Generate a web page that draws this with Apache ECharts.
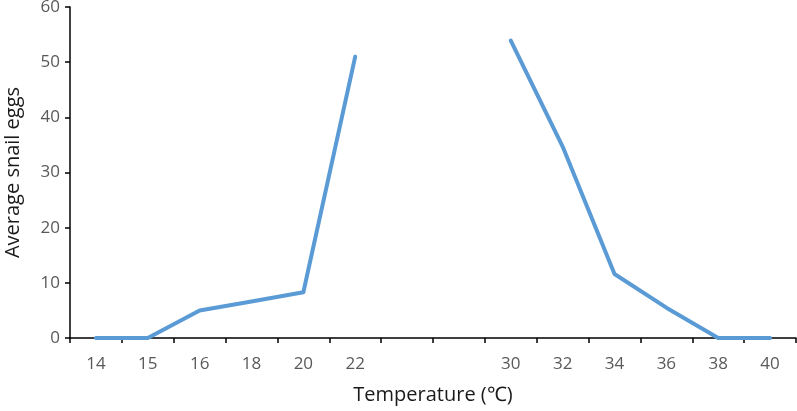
<!DOCTYPE html>
<html>
<head>
<meta charset="utf-8">
<script src="https://cdn.jsdelivr.net/npm/echarts@6/dist/echarts.min.js"></script>
<style>html,body{margin:0;padding:0;background:#fff;}#c{width:797px;height:411px;}</style>
</head>
<body>
<div id="c"></div>
<script>
var categories = ['14','15','16','18','20','22','','','30','32','34','36','38','40'];
var eggs = [0, 0, 5, 6.6, 8.3, 51, null, null, 53.9, 34.7, 11.6, 5.5, 0, 0];
var yTicks = {min: 0, max: 60, interval: 10};

var chart = echarts.init(document.getElementById('c'), null, {renderer: 'canvas'});
chart.setOption({
  animation: false,
  backgroundColor: '#ffffff',
  grid: {left: 70, right: 1, top: 7, bottom: 73, containLabel: false, outerBoundsMode: 'none'},
  xAxis: {
    type: 'category',
    data: categories,
    boundaryGap: true,
    name: 'Temperature (℃)',
    nameLocation: 'middle',
    nameGap: 47,
    nameMoveOverlap: false,
    nameTextStyle: {fontFamily: 'Open Sans', fontSize: 20, color: '#1a1a1a'},
    axisLine: {lineStyle: {color: '#000000', width: 1.5}},
    axisTick: {show: true, interval: 0, length: 5, lineStyle: {color: '#000000', width: 1.5}},
    axisLabel: {interval: 0, margin: 18, fontFamily: 'Open Sans', fontSize: 17, color: '#595959'},
    splitLine: {show: false}
  },
  yAxis: {
    type: 'value',
    min: yTicks.min,
    max: yTicks.max,
    interval: yTicks.interval,
    name: 'Average snail eggs',
    nameLocation: 'middle',
    nameGap: 47,
    nameMoveOverlap: false,
    nameRotate: 90,
    nameTextStyle: {fontFamily: 'Open Sans', fontSize: 20, color: '#1a1a1a'},
    axisLine: {show: true, lineStyle: {color: '#000000', width: 1.5}},
    axisTick: {show: true, length: 5, lineStyle: {color: '#000000', width: 1.5}},
    axisLabel: {margin: 10, fontFamily: 'Open Sans', fontSize: 17, color: '#595959'},
    splitLine: {show: false}
  },
  series: [{
    type: 'line',
    data: eggs,
    showSymbol: false,
    symbol: 'none',
    connectNulls: false,
    lineStyle: {color: '#5b9bd5', width: 4, cap: 'round', join: 'round'}
  }]
});
</script>
</body>
</html>
